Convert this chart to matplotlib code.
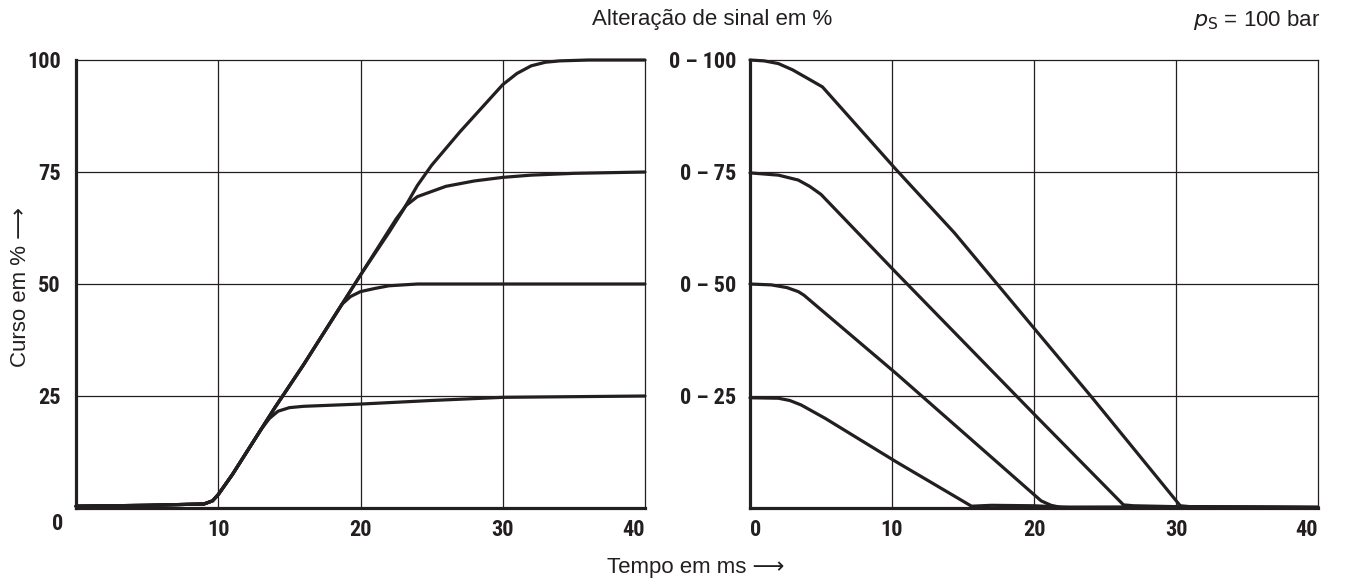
import matplotlib
matplotlib.use("Agg")
import matplotlib.pyplot as plt
from matplotlib import font_manager

# curva de curso (esquerda): tempo em ms, curso em %
t_c100 = [0, 5, 9, 9.6, 10, 11, 12, 13, 14, 16, 18, 20, 22, 23, 24, 25, 27, 29, 30, 31, 32, 33, 34, 36, 40]
c100 = [0.4, 0.6, 0.9, 1.6, 3, 7.5, 12.5, 17.5, 22.5, 32, 42, 52, 61.5, 66.5, 72, 76.5, 84, 91, 94.5, 97, 98.7, 99.5, 99.8, 100, 100]

t_c75 = [0, 5, 9, 9.6, 10, 11, 12, 13, 14, 16, 18, 20, 21.5, 22.5, 23.2, 24, 26, 28, 30, 32, 35, 40]
c75 = [0.4, 0.6, 0.9, 1.6, 3, 7.5, 12.5, 17.5, 22.5, 32, 42, 52, 59.5, 64.5, 67.5, 69.5, 71.8, 73, 73.8, 74.3, 74.7, 75]

t_c50 = [0, 5, 9, 9.6, 10, 11, 12, 13, 14, 16, 18, 18.7, 19.3, 20, 21, 22, 24, 30, 40]
c50 = [0.4, 0.6, 0.9, 1.6, 3, 7.5, 12.5, 17.5, 22.5, 32, 42, 45.5, 47.2, 48.3, 49, 49.6, 50, 50, 50]

t_c25 = [0, 5, 9, 9.6, 10, 11, 12, 13, 13.6, 14.2, 15, 16, 20, 25, 30, 40]
c25 = [0.4, 0.6, 0.9, 1.6, 3, 7.5, 12.5, 17.5, 20, 21.6, 22.4, 22.7, 23.2, 24, 24.7, 25]

# alteração de sinal (direita)
t_r100 = [0, 1, 2, 3, 4, 5.1, 10.3, 14.4, 20.3, 24.1, 30.3, 31, 35, 40]
r100 = [100, 99.8, 99.2, 97.8, 96, 94, 75.5, 61.4, 39, 24.6, 0.5, 0.3, 0.2, 0.1]

t_r75 = [0, 2, 3.4, 4.2, 5, 10.3, 20.3, 26.3, 27, 30, 40]
r75 = [74.8, 74.3, 73.2, 71.8, 70, 52.5, 20, 0.7, 0.5, 0.3, 0.2]

t_r50 = [0, 1.5, 2.6, 3.4, 3.8, 10.3, 20.5, 21.2, 21.8, 22.5, 30, 40]
r50 = [50, 49.8, 49.2, 48.3, 47.5, 30, 1.6, 0.6, 0.2, 0.1, 0.2, 0.1]

t_r25 = [0, 2, 2.8, 3.6, 5.3, 10.3, 13.3, 15.6, 17, 20, 22, 30, 40]
r25 = [24.6, 24.5, 24, 23, 20, 10.3, 4.7, 0.4, 0.6, 0.5, 0.2, 0.2, 0.1]

left_yticks = [25, 50, 75, 100]
right_ylabels = ["0 – 25", "0 – 50", "0 – 75", "0 – 100"]
xticks = [0, 10, 20, 30, 40]

ink = "#231f20"
names = {f.name for f in font_manager.fontManager.ttflist}
cands = ["Roboto Condensed", "Fira Sans Condensed", "PT Sans Narrow", "Archivo Narrow",
         "Liberation Sans Narrow"]
narrow = next((c for c in cands if c in names), None)
if narrow:
    tk = dict(fontfamily=narrow, fontweight="bold", fontsize=16)
else:
    tk = dict(fontfamily="Open Sans", fontstretch="condensed", fontweight="bold", fontsize=16)
plain = ["Liberation Sans", "DejaVu Sans"]

fig = plt.figure(figsize=(13.46, 5.88), dpi=100)
ax1 = fig.add_axes([76 / 1346, 1 - 508 / 588, 569 / 1346, 448 / 588])
ax2 = fig.add_axes([750 / 1346, 1 - 508 / 588, 568 / 1346, 448 / 588])

def frame(ax):
    ax.set_xlim(0, 40)
    ax.set_ylim(0, 100)
    for y in [25, 50, 75]:
        ax.axhline(y, color=ink, lw=0.9, zorder=1)
    for x in [10, 20, 30]:
        ax.axvline(x, color=ink, lw=0.9, zorder=1)
    ax.spines["left"].set_linewidth(2.3)
    ax.spines["bottom"].set_linewidth(2.3)
    ax.spines["top"].set_linewidth(0.9)
    ax.spines["right"].set_linewidth(0.9)
    for s in ax.spines.values():
        s.set_color(ink)
    ax.tick_params(length=0, colors=ink)

frame(ax1)
for t, c in [(t_c100, c100), (t_c75, c75), (t_c50, c50), (t_c25, c25)]:
    ax1.plot(t, c, color=ink, lw=2.3, clip_on=False, solid_capstyle="round", zorder=3)
ax1.set_yticks(left_yticks)
ax1.set_yticklabels([str(v) for v in left_yticks], **tk)
ax1.set_xticks(xticks[1:])
ax1.set_xticklabels([str(v) for v in xticks[1:]], **tk)
ax1.tick_params(axis="x", pad=8)
ax1.tick_params(axis="y", pad=11)
ax1.get_xticklabels()[-1].set_ha("right")
ax1.text(-0.9, -3.5, "0", color=ink, ha="right", va="center", **tk)

frame(ax2)
for t, r in [(t_r100, r100), (t_r75, r75), (t_r50, r50), (t_r25, r25)]:
    ax2.plot(t, r, color=ink, lw=2.3, clip_on=False, solid_capstyle="round", zorder=3)
ax2.set_yticks(left_yticks)
ax2.set_yticklabels(right_ylabels, **tk)
ax2.set_xticks(xticks)
ax2.set_xticklabels([str(v) for v in xticks], **tk)
ax2.tick_params(axis="x", pad=8)
ax2.tick_params(axis="y", pad=10)
ax2.get_xticklabels()[0].set_ha("left")
ax2.get_xticklabels()[-1].set_ha("right")

fig.text(712 / 1346, 1 - 20 / 588, "Alteração de sinal em %", fontsize=16, family=plain,
         color=ink, ha="center", va="center")
fig.text(1320 / 1346, 1 - 20 / 588, r"$p_\mathrm{S}$ = 100 bar", fontsize=16, family=plain,
         color=ink, ha="right", va="center")
fig.text(21 / 1346, 1 - 287 / 588, "Curso em % ⟶", fontsize=16, family=plain,
         color=ink, ha="center", va="center", rotation=90)
fig.text(696 / 1346, 1 - 568 / 588, "Tempo em ms ⟶", fontsize=16, family=plain,
         color=ink, ha="center", va="center")

fig.savefig("out.png", dpi=100)
